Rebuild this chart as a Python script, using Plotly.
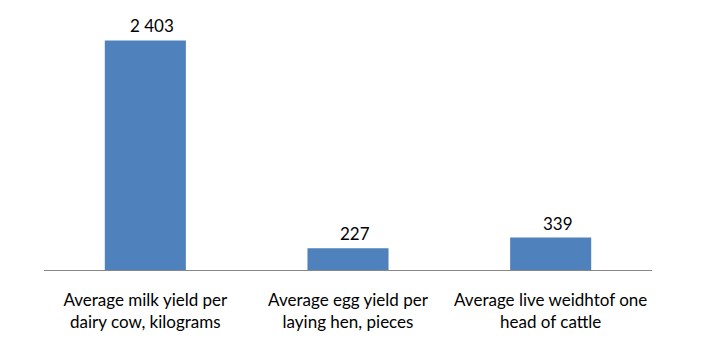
import plotly.graph_objects as go

categories = ["Average milk yield per<br>dairy cow, kilograms",
              "Average egg yield per<br>laying hen, pieces",
              "Average live weidhtof one<br>head of cattle"]
values = [2403, 227, 339]
value_labels = ["2 403", "227", "339"]

FONT = "Lato"

fig = go.Figure()
fig.add_trace(go.Bar(x=categories, y=values, marker=dict(color="#4F81BD", line=dict(width=0)),
                     hoverinfo="skip"))

for c, v, t in zip(categories, values, value_labels):
    fig.add_annotation(x=c, y=v, text=t, showarrow=False, xanchor="center", yanchor="bottom",
                       xshift=7, yshift=2, font=dict(family=FONT, size=17, color="#000000"))

fig.update_layout(
    width=716, height=352,
    margin=dict(l=44, r=64, t=12, b=82),
    paper_bgcolor="white", plot_bgcolor="white",
    bargap=0.6, showlegend=False,
    xaxis=dict(showline=True, linecolor="#888888", linewidth=1.3, ticks="outside", ticklen=14,
               tickcolor="rgba(0,0,0,0)", tickfont=dict(family=FONT, size=17, color="#000000"),
               showgrid=False, zeroline=False, fixedrange=True),
    yaxis=dict(range=[0, 2700], visible=False, showgrid=False, zeroline=False),
)

fig.write_html("out.html")
